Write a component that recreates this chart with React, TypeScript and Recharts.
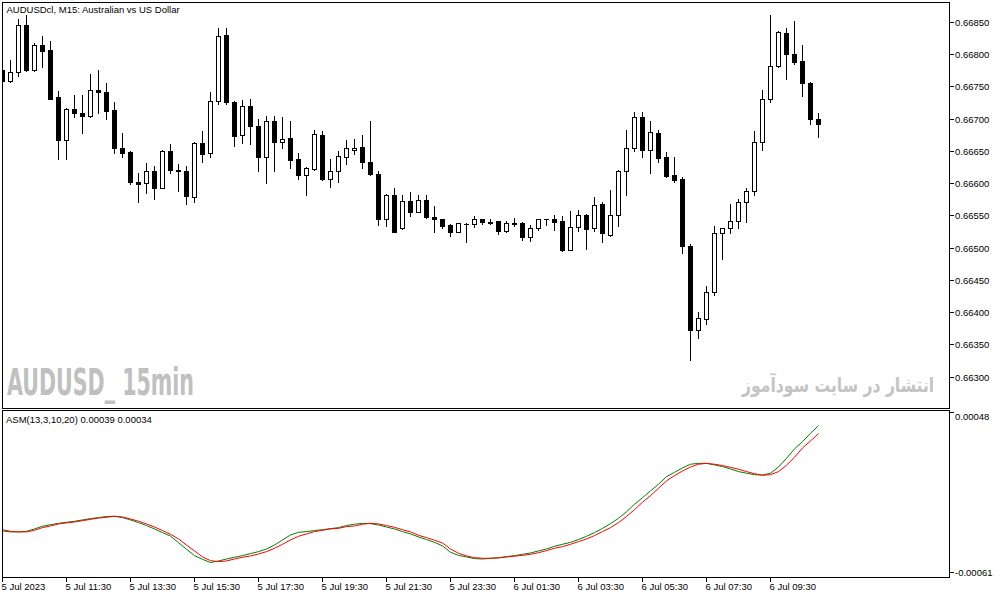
import React, { useLayoutEffect, useRef, useState } from 'react';
import { ComposedChart, Bar, Line, XAxis, YAxis } from 'recharts';

// AUDUSD M15 candles, 5 Jul 09:30 .. 6 Jul 11:00
const opens = [
  0.66775, 0.66758, 0.66772, 0.66845, 0.66775, 0.66814, 0.66806, 0.66733, 0.66666, 0.66715,
  0.66708, 0.66704, 0.66744, 0.66741, 0.66713, 0.66654, 0.66648, 0.66602, 0.66600, 0.66618,
  0.66593, 0.66650, 0.66621, 0.66618, 0.66579, 0.66662, 0.66646, 0.66727, 0.66829, 0.66725,
  0.66675, 0.66719, 0.66688, 0.66641, 0.66696, 0.66663, 0.66670, 0.66637, 0.66613, 0.66622,
  0.66675, 0.66607, 0.66618, 0.66641, 0.66652, 0.66656, 0.66633, 0.66614, 0.66545, 0.66581,
  0.66530, 0.66572, 0.66556, 0.66574, 0.66547, 0.66544, 0.66535, 0.66525, 0.66537, 0.66536,
  0.66544, 0.66539, 0.66541, 0.66526, 0.66538, 0.66538, 0.66517, 0.66530, 0.66545, 0.66544,
  0.66541, 0.66497, 0.66532, 0.66551, 0.66530, 0.66567, 0.66519, 0.66550, 0.66619, 0.66654,
  0.66702, 0.66651, 0.66678, 0.66640, 0.66612, 0.66606, 0.66503, 0.66372, 0.66389, 0.66432,
  0.66522, 0.66530, 0.66541, 0.66570, 0.66587, 0.66663, 0.66731, 0.66781, 0.66832, 0.66800,
  0.66789, 0.66755, 0.66699,
];
const highs = [
  0.66781, 0.66791, 0.66854, 0.66860, 0.66817, 0.66828, 0.66820, 0.66742, 0.66717, 0.66737,
  0.66736, 0.66769, 0.66775, 0.66755, 0.66725, 0.66677, 0.66650, 0.66615, 0.66631, 0.66626,
  0.66652, 0.66660, 0.66630, 0.66626, 0.66663, 0.66681, 0.66741, 0.66840, 0.66840, 0.66727,
  0.66729, 0.66731, 0.66699, 0.66704, 0.66704, 0.66703, 0.66696, 0.66647, 0.66625, 0.66682,
  0.66681, 0.66637, 0.66650, 0.66667, 0.66668, 0.66674, 0.66696, 0.66619, 0.66583, 0.66592,
  0.66582, 0.66586, 0.66582, 0.66582, 0.66565, 0.66545, 0.66536, 0.66538, 0.66538, 0.66549,
  0.66545, 0.66544, 0.66542, 0.66541, 0.66546, 0.66540, 0.66535, 0.66545, 0.66545, 0.66551,
  0.66549, 0.66557, 0.66558, 0.66552, 0.66579, 0.66571, 0.66589, 0.66620, 0.66682, 0.66710,
  0.66710, 0.66696, 0.66682, 0.66648, 0.66640, 0.66609, 0.66505, 0.66400, 0.66441, 0.66534,
  0.66531, 0.66568, 0.66576, 0.66592, 0.66681, 0.66744, 0.66860, 0.66836, 0.66840, 0.66851,
  0.66814, 0.66756, 0.66708,
];
const lows = [
  0.66754, 0.66757, 0.66766, 0.66774, 0.66774, 0.66780, 0.66730, 0.66637, 0.66637, 0.66703,
  0.66677, 0.66703, 0.66708, 0.66699, 0.66646, 0.66641, 0.66599, 0.66571, 0.66584, 0.66576,
  0.66592, 0.66615, 0.66588, 0.66568, 0.66571, 0.66633, 0.66640, 0.66722, 0.66722, 0.66657,
  0.66662, 0.66660, 0.66619, 0.66600, 0.66618, 0.66655, 0.66624, 0.66607, 0.66581, 0.66620,
  0.66605, 0.66594, 0.66601, 0.66629, 0.66645, 0.66624, 0.66613, 0.66535, 0.66534, 0.66524,
  0.66529, 0.66549, 0.66555, 0.66546, 0.66525, 0.66530, 0.66518, 0.66524, 0.66509, 0.66532,
  0.66536, 0.66536, 0.66521, 0.66525, 0.66534, 0.66512, 0.66511, 0.66528, 0.66535, 0.66527,
  0.66495, 0.66496, 0.66526, 0.66498, 0.66526, 0.66509, 0.66518, 0.66534, 0.66582, 0.66649,
  0.66641, 0.66616, 0.66633, 0.66610, 0.66601, 0.66492, 0.66326, 0.66360, 0.66381, 0.66427,
  0.66483, 0.66522, 0.66530, 0.66539, 0.66581, 0.66652, 0.66726, 0.66780, 0.66761, 0.66784,
  0.66735, 0.66691, 0.66672,
];
const closes = [
  0.66758, 0.66772, 0.66845, 0.66775, 0.66814, 0.66805, 0.66731, 0.66666, 0.66715, 0.66708,
  0.66704, 0.66744, 0.66741, 0.66712, 0.66654, 0.66647, 0.66601, 0.66598, 0.66618, 0.66593,
  0.66650, 0.66621, 0.66618, 0.66580, 0.66662, 0.66645, 0.66727, 0.66828, 0.66725, 0.66673,
  0.66719, 0.66689, 0.66641, 0.66696, 0.66663, 0.66668, 0.66636, 0.66613, 0.66623, 0.66676,
  0.66606, 0.66619, 0.66642, 0.66654, 0.66655, 0.66633, 0.66614, 0.66545, 0.66581, 0.66525,
  0.66572, 0.66556, 0.66574, 0.66547, 0.66544, 0.66534, 0.66525, 0.66538, 0.66536, 0.66544,
  0.66539, 0.66538, 0.66526, 0.66538, 0.66537, 0.66517, 0.66530, 0.66544, 0.66544, 0.66540,
  0.66496, 0.66532, 0.66550, 0.66529, 0.66566, 0.66522, 0.66550, 0.66619, 0.66654, 0.66702,
  0.66651, 0.66679, 0.66639, 0.66611, 0.66605, 0.66502, 0.66372, 0.66391, 0.66432, 0.66522,
  0.66530, 0.66541, 0.66570, 0.66587, 0.66663, 0.66731, 0.66781, 0.66834, 0.66800, 0.66788,
  0.66755, 0.66699, 0.66691,
];

// ASM(13,3,10,20): main (green) and signal (red)
const asmMain = [
  -0.000329, -0.000335, -0.000335, -0.000331, -0.000315, -0.000297, -0.000286, -0.000277, -0.000270, -0.000263,
  -0.000254, -0.000245, -0.000238, -0.000231, -0.000229, -0.000238, -0.000254, -0.000272, -0.000292, -0.000315,
  -0.000340, -0.000363, -0.000408, -0.000453, -0.000496, -0.000521, -0.000543, -0.000532, -0.000519, -0.000507,
  -0.000496, -0.000482, -0.000469, -0.000451, -0.000424, -0.000390, -0.000356, -0.000338, -0.000333, -0.000326,
  -0.000320, -0.000313, -0.000306, -0.000292, -0.000283, -0.000277, -0.000279, -0.000288, -0.000302, -0.000315,
  -0.000333, -0.000349, -0.000369, -0.000387, -0.000406, -0.000430, -0.000473, -0.000494, -0.000505, -0.000516,
  -0.000519, -0.000514, -0.000510, -0.000503, -0.000496, -0.000487, -0.000478, -0.000464, -0.000451, -0.000433,
  -0.000419, -0.000406, -0.000387, -0.000365, -0.000340, -0.000311, -0.000279, -0.000243, -0.000198, -0.000148,
  -0.000103, -0.000057, -0.000012, 0.000040, 0.000069, 0.000099, 0.000124, 0.000130, 0.000130, 0.000119,
  0.000108, 0.000092, 0.000074, 0.000063, 0.000053, 0.000051, 0.000063, 0.000105, 0.000164, 0.000228,
  0.000277, 0.000334, 0.000386,
];
const asmSignal = [
  -0.000320, -0.000331, -0.000335, -0.000335, -0.000324, -0.000306, -0.000295, -0.000281, -0.000274, -0.000268,
  -0.000259, -0.000250, -0.000241, -0.000236, -0.000229, -0.000234, -0.000247, -0.000263, -0.000281, -0.000302,
  -0.000326, -0.000351, -0.000383, -0.000424, -0.000464, -0.000505, -0.000530, -0.000537, -0.000532, -0.000519,
  -0.000507, -0.000498, -0.000485, -0.000469, -0.000446, -0.000419, -0.000390, -0.000365, -0.000349, -0.000333,
  -0.000324, -0.000315, -0.000311, -0.000299, -0.000295, -0.000283, -0.000277, -0.000281, -0.000292, -0.000304,
  -0.000320, -0.000335, -0.000358, -0.000374, -0.000392, -0.000410, -0.000451, -0.000480, -0.000498, -0.000510,
  -0.000514, -0.000514, -0.000512, -0.000505, -0.000500, -0.000494, -0.000487, -0.000476, -0.000462, -0.000446,
  -0.000435, -0.000419, -0.000401, -0.000383, -0.000360, -0.000333, -0.000306, -0.000272, -0.000231, -0.000184,
  -0.000134, -0.000089, -0.000039, 0.000011, 0.000047, 0.000078, 0.000105, 0.000124, 0.000130, 0.000124,
  0.000115, 0.000103, 0.000090, 0.000074, 0.000060, 0.000049, 0.000053, 0.000074, 0.000117, 0.000171,
  0.000234, 0.000282, 0.000332,
];

const xTickIdx = [0, 8, 16, 24, 32, 40, 48, 56, 64, 72, 80, 88, 96];
const xTickLabels = [
  '5 Jul 2023', '5 Jul 11:30', '5 Jul 13:30', '5 Jul 15:30', '5 Jul 17:30', '5 Jul 19:30', '5 Jul 21:30',
  '5 Jul 23:30', '6 Jul 01:30', '6 Jul 03:30', '6 Jul 05:30', '6 Jul 07:30', '6 Jul 09:30',
];
const priceTicks = [0.663, 0.6635, 0.664, 0.6645, 0.665, 0.6655, 0.666, 0.6665, 0.667, 0.6675, 0.668, 0.6685];
const asmTicks = [0.00048, -0.00061];

const candles = opens.map((o, i) => ({
  i, o, h: highs[i], l: lows[i], c: closes[i], range: [lows[i], highs[i]],
}));
const asmRows = asmMain.map((v, i) => ({ i, main: v, signal: asmSignal[i] }));

const FONT = '"Liberation Sans", Arial, sans-serif';
const xDomain = [-0.0625, 118.4375];

function Candle(props: any) {
  const { x, y, width, height, payload } = props;
  if (x == null || payload == null) return null;
  const { o, h, l, c } = payload;
  const top = Math.min(y, y + height);
  const span = Math.abs(height);
  const ppu = h > l ? span / (h - l) : 0;
  const cx = Math.floor(x + width / 2) + 0.5;
  const at = (v: number) => top + (h - v) * ppu;
  const bTop = Math.round(at(Math.max(o, c)));
  const bBot = Math.round(at(Math.min(o, c)));
  const up = c >= o;
  return (
    <g shapeRendering="crispEdges">
      <line x1={cx} x2={cx} y1={Math.round(top)} y2={Math.round(top + span) + 1} stroke="#000" />
      {bBot - bTop < 1 ? (
        <line x1={cx - 2.5} x2={cx + 2.5} y1={bTop + 0.5} y2={bTop + 0.5} stroke="#000" />
      ) : (
        <rect x={cx - 2} y={bTop + 0.5} width={4} height={bBot - bTop} fill={up ? '#fff' : '#000'} stroke="#000" />
      )}
    </g>
  );
}

const PriceTick = (props: any) => {
  const { x, y, payload } = props;
  const py = Math.round(y) + 0.5;
  return (
    <g>
      <line x1={x} x2={x + 4} y1={py} y2={py} stroke="#000" shapeRendering="crispEdges" />
      <text x={x + 5} y={py + 3.4} fontSize={9.5} fontFamily={FONT} fill="#000">
        {payload.value.toFixed(5)}
      </text>
    </g>
  );
};

const AsmTick = (props: any) => {
  const { x, y, payload } = props;
  const py = Math.round(y) + 0.5;
  const dy = payload.value > 0 ? 7.5 : 3.2;
  return (
    <g>
      <line x1={x} x2={x + 4} y1={py} y2={py} stroke="#000" shapeRendering="crispEdges" />
      <text x={x + 5} y={py + dy} fontSize={9.5} fontFamily={FONT} fill="#000">
        {payload.value.toFixed(5)}
      </text>
    </g>
  );
};

const TimeTick = (props: any) => {
  const { x, y, payload } = props;
  const label = xTickLabels[xTickIdx.indexOf(payload.value)];
  const px = Math.floor(x) + 0.5;
  return (
    <g>
      <line x1={px} x2={px} y1={y} y2={y + 5} stroke="#000" shapeRendering="crispEdges" />
      <text x={px - 1} y={y + 13} fontSize={9.5} fontFamily={FONT} fill="#000">{label}</text>
    </g>
  );
};

// Persian watermark as HTML text, squeezed to the width it has in the picture
function FarsiMark() {
  const ref = useRef<HTMLSpanElement>(null);
  const [sx, setSx] = useState(1);
  useLayoutEffect(() => {
    if (ref.current) {
      const w = ref.current.offsetWidth;
      if (w > 0) setSx(192 / w);
    }
  }, []);
  return (
    <div style={{ position: 'absolute', right: 1003 - 934, top: 372, height: 28, whiteSpace: 'nowrap' }}>
      <span
        ref={ref}
        dir="rtl"
        style={{
          display: 'inline-block', fontFamily: '"DejaVu Sans", sans-serif', fontWeight: 'bold', fontSize: 20,
          lineHeight: '26px', color: '#c4c4c4', transform: `scaleX(${sx})`, transformOrigin: 'right center',
        }}
      >
        انتشار در سایت سودآموز
      </span>
    </div>
  );
}

export default function App() {
  return (
    <div style={{ position: 'absolute', left: 0, top: 0, width: 1003, height: 598, background: '#fff', overflow: 'hidden' }}>
      {/* texts and watermarks */}
      <svg width={1003} height={598} style={{ position: 'absolute', left: 0, top: 0 }}>
        <text x={6.5} y={13} fontSize={9.5} fontFamily={FONT} fill="#000">AUDUSDcl, M15:  Australian vs US Dollar</text>
        <text x={6} y={423} fontSize={9.5} fontFamily={FONT} fill="#000">ASM(13,3,10,20) 0.00039 0.00034</text>
        <text x={7} y={395} fontSize={37} fontWeight="bold" fill="#c0c0c0" textLength={187} lengthAdjust="spacingAndGlyphs"
          fontFamily='"Liberation Sans Narrow", "DejaVu Sans Condensed", "Liberation Sans", sans-serif'>
          AUDUSD_ 15min
        </text>
      </svg>
      <FarsiMark />

      <div style={{ position: 'absolute', left: 0, top: 0 }}>
        <ComposedChart width={1003} height={410} data={candles} margin={{ top: 3, right: 0, bottom: 2, left: 2 }}>
          <XAxis type="number" dataKey="i" domain={xDomain} allowDataOverflow hide />
          <YAxis
            orientation="right" width={53} domain={[0.662516, 0.66879]} allowDataOverflow
            ticks={priceTicks} interval={0} tickSize={0} tickMargin={0} axisLine={false} tickLine={false}
            tick={PriceTick}
          />
          <Bar dataKey="range" barSize={5} shape={Candle} isAnimationActive={false} />
        </ComposedChart>
      </div>

      <div style={{ position: 'absolute', left: 0, top: 405 }}>
        <ComposedChart width={1003} height={193} data={asmRows} margin={{ top: 6, right: 0, bottom: 0, left: 2 }}>
          <XAxis
            type="number" dataKey="i" domain={xDomain} allowDataOverflow height={21}
            ticks={xTickIdx} interval={0} tickSize={0} tickMargin={0} axisLine={false} tickLine={false}
            tick={TimeTick}
          />
          <YAxis
            orientation="right" width={53} domain={[-0.000641, 0.000485]} allowDataOverflow
            ticks={asmTicks} interval={0} tickSize={0} tickMargin={0} axisLine={false} tickLine={false}
            tick={AsmTick}
          />
          <Line type="linear" dataKey="main" stroke="#008000" strokeWidth={1} dot={false} isAnimationActive={false} />
          <Line type="linear" dataKey="signal" stroke="#ff0000" strokeWidth={1} dot={false} isAnimationActive={false} />
        </ComposedChart>
      </div>

      {/* panel frames */}
      <div style={{ position: 'absolute', left: 2, top: 2, width: 948, height: 407, border: '1px solid #000', boxSizing: 'border-box', pointerEvents: 'none' }} />
      <div style={{ position: 'absolute', left: 2, top: 410, width: 948, height: 168, border: '1px solid #000', boxSizing: 'border-box', pointerEvents: 'none' }} />
    </div>
  );
}
